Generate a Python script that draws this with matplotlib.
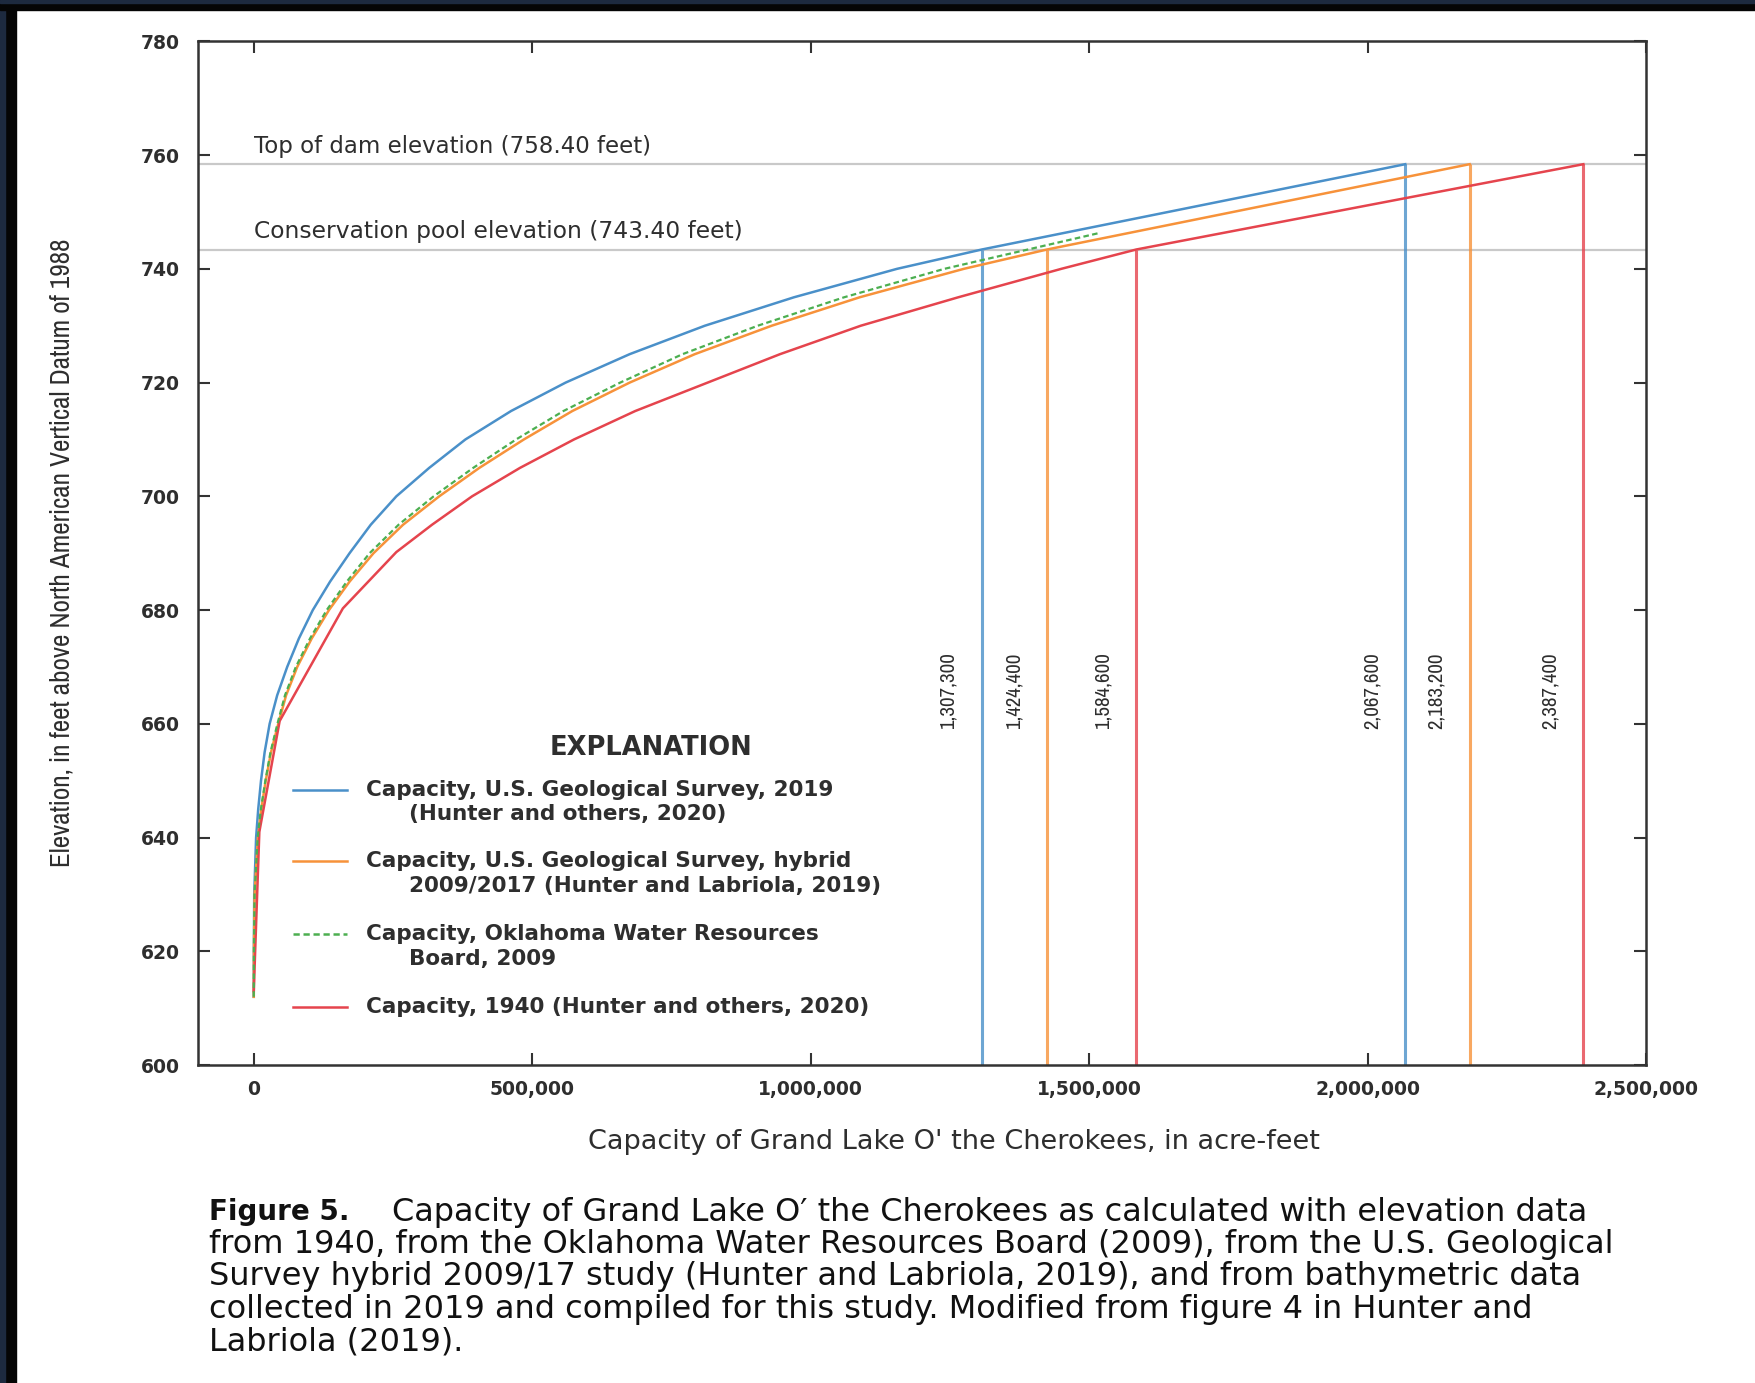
import matplotlib
matplotlib.use("Agg")
import matplotlib.pyplot as plt
from matplotlib import font_manager
from matplotlib.patches import Rectangle
from matplotlib.ticker import FuncFormatter

# capacity curves (acre-feet vs elevation, feet)
usgs2019_elev = [612, 620, 630, 640, 645, 650, 655, 660, 665, 670, 675, 680, 685, 690, 695,
                 700, 705, 710, 715, 720, 725, 730, 735, 740, 743.4, 758.4]
usgs2019_cap = [0, 200, 800, 4200, 8000, 13000, 19500, 28500, 42000, 60000, 81000, 106000,
                137000, 172000, 210000, 256000, 315000, 380000, 462000, 560000, 675000,
                810000, 970000, 1155000, 1307300, 2067600]

hybrid_elev = [612, 620, 630, 640, 645, 650, 655, 660, 665, 670, 675, 680, 685, 690, 695,
               700, 705, 710, 715, 720, 725, 730, 735, 740, 743.4, 758.4]
hybrid_cap = [0, 300, 1500, 7500, 13500, 21500, 31000, 44000, 58000, 78000, 104000, 135000,
              172000, 215000, 268000, 333000, 405000, 485000, 572000, 675000, 792000,
              930000, 1088000, 1275000, 1424400, 2183200]

owrb_elev = [612, 620, 630, 640, 645, 650, 655, 660, 665, 670, 675, 680, 685, 690, 695,
             700, 705, 710, 715, 720, 725, 730, 735, 740, 746.3]
owrb_cap = [0, 280, 1400, 7000, 12800, 20800, 30000, 42500, 56000, 75500, 101000, 131000,
            167000, 208000, 260000, 323000, 394000, 471000, 556000, 658000, 770000,
            905000, 1060000, 1240000, 1518000]

y1940_elev = [613, 641, 660.5, 680.3, 690.2, 695, 700, 705, 710, 715, 720, 725, 730, 735,
              740, 743.4, 758.4]
y1940_cap = [0, 10000, 46500, 160000, 256000, 320000, 392000, 478000, 575000, 685000, 815000,
             945000, 1090000, 1265000, 1450000, 1584600, 2387400]

top_of_dam = 758.40
conservation_pool = 743.40

# capacities at the two reference elevations
pool_caps = [1307300, 1424400, 1584600]
dam_caps = [2067600, 2183200, 2387400]

xticks = [0, 500000, 1000000, 1500000, 2000000, 2500000]
yticks = list(range(600, 781, 20))

legend_labels = [
    ("Capacity, U.S. Geological Survey, 2019", "(Hunter and others, 2020)"),
    ("Capacity, U.S. Geological Survey, hybrid", "2009/2017 (Hunter and Labriola, 2019)"),
    ("Capacity, Oklahoma Water Resources", "Board, 2009"),
    ("Capacity, 1940 (Hunter and others, 2020)", None),
]

caption_lines = [
    "Capacity of Grand Lake O\u2032 the Cherokees as calculated with elevation data",
    "from 1940, from the Oklahoma Water Resources Board (2009), from the U.S. Geological",
    "Survey hybrid 2009/17 study (Hunter and Labriola, 2019), and from bathymetric data",
    "collected in 2019 and compiled for this study. Modified from figure 4 in Hunter and",
    "Labriola (2019).",
]

BLUE = "#4a90c9"
ORANGE = "#f7923a"
GREEN = "#4caf50"
RED = "#e5444d"
TXT = "#2e2e2e"

# look for a condensed face for the narrow labels
narrow = None
for f in font_manager.fontManager.ttflist:
    if ("Narrow" in f.name or "Condensed" in f.name) and f.style == "normal":
        narrow = dict(family=f.name)
        break
if narrow is None:
    narrow = dict(family="DejaVu Sans")
    ylab_size, num_size = 16, 13
else:
    ylab_size, num_size = 19.5, 15

fig = plt.figure(figsize=(17.56, 13.83), dpi=100, facecolor="white")

# dark screenshot border
fig.patches.append(Rectangle((0, 0), 16 / 1756, 1, transform=fig.transFigure, color="#050505"))
fig.patches.append(Rectangle((0, 0), 5 / 1756, 1, transform=fig.transFigure, color="#1d2a3f"))
fig.patches.append(Rectangle((0, 1 - 10 / 1383), 1, 10 / 1383, transform=fig.transFigure, color="#050505"))
fig.patches.append(Rectangle((0, 1 - 3 / 1383), 1, 3 / 1383, transform=fig.transFigure, color="#1d2a3f"))

ax = fig.add_axes([0.1128, 0.2299, 0.8246, 0.7402])
ax.set_xlim(-100000, 2500000)
ax.set_ylim(600, 780)

ax.axhline(top_of_dam, color="#c9c9c9", lw=1.6, zorder=1)
ax.axhline(conservation_pool, color="#c9c9c9", lw=1.6, zorder=1)

colors3 = [BLUE, ORANGE, RED]
for caps, elev in [(pool_caps, conservation_pool), (dam_caps, top_of_dam)]:
    for c, col in zip(caps, colors3):
        ax.vlines(c, 600, elev, color=col, lw=2.2, alpha=0.8, zorder=2)
        ax.annotate(f"{c:,}", xy=(c, 665.8), xytext=(-24, 0), textcoords="offset points",
                    rotation=90, ha="center", va="center", fontsize=num_size, color=TXT,
                    **narrow)

ax.plot(usgs2019_cap, usgs2019_elev, color=BLUE, lw=1.8, zorder=3)
ax.plot(hybrid_cap, hybrid_elev, color=ORANGE, lw=1.8, zorder=3)
ax.plot(owrb_cap, owrb_elev, color=GREEN, lw=1.6, ls=(0, (2.5, 1.5)), zorder=4)
ax.plot(y1940_cap, y1940_elev, color=RED, lw=1.8, zorder=3)

ax.text(0, 761.5, "Top of dam elevation (758.40 feet)", fontsize=16.5, color=TXT, va="center")
ax.text(0, 746.5, "Conservation pool elevation (743.40 feet)", fontsize=16.8, color=TXT,
        va="center")

# explanation block
ax.text(0.313, 0.310, "EXPLANATION", transform=ax.transAxes, ha="center", va="center",
        fontsize=18.5, fontweight="bold", color=TXT)
leg_y = [0.2691, 0.1991, 0.128, 0.0569]
styles = [(BLUE, "-"), (ORANGE, "-"), (GREEN, (0, (2.5, 1.5))), (RED, "-")]
for yy, (col, ls), (l1, l2) in zip(leg_y, styles, legend_labels):
    ax.plot([0.0657, 0.1029], [yy, yy], transform=ax.transAxes, color=col, ls=ls, lw=1.8)
    ax.text(0.116, yy, l1, transform=ax.transAxes, va="center", fontsize=15.5,
            fontweight="bold", color=TXT)
    if l2:
        ax.text(0.1454, yy - 0.0241, l2, transform=ax.transAxes, va="center", fontsize=15.5,
                fontweight="bold", color=TXT)

ax.set_xticks(xticks)
ax.set_yticks(yticks)
ax.xaxis.set_major_formatter(FuncFormatter(lambda v, p: f"{int(v):,}"))
ax.tick_params(direction="in", length=8.5, width=1.5, color="#333333",
               top=True, right=True, labelsize=13.5, labelcolor=TXT)
ax.tick_params(axis="y", pad=13)
ax.tick_params(axis="x", pad=11)
for lab in ax.get_xticklabels() + ax.get_yticklabels():
    lab.set_fontweight("bold")
for sp in ax.spines.values():
    sp.set_linewidth(1.8)
    sp.set_color("#333333")

ax.set_ylabel("Elevation, in feet above North American Vertical Datum of 1988",
              fontsize=ylab_size, color=TXT, **narrow)
ax.yaxis.set_label_coords(-0.085, 0.5)

fig.text(0.543, 1 - 1142 / 1383, "Capacity of Grand Lake O' the Cherokees, in acre-feet",
         ha="center", va="center", fontsize=19.5, color=TXT)

# caption
cap_y0 = 1212
fig.text(209 / 1756, 1 - cap_y0 / 1383, "Figure 5.", fontsize=20, fontweight="bold",
         va="center", color="#111111")
for i, line in enumerate(caption_lines):
    x0 = 392 if i == 0 else 209
    fig.text(x0 / 1756, 1 - (cap_y0 + i * 32.5) / 1383, line, fontsize=23, va="center",
             color="#111111")

fig.savefig("out.png", dpi=100, facecolor="white")
